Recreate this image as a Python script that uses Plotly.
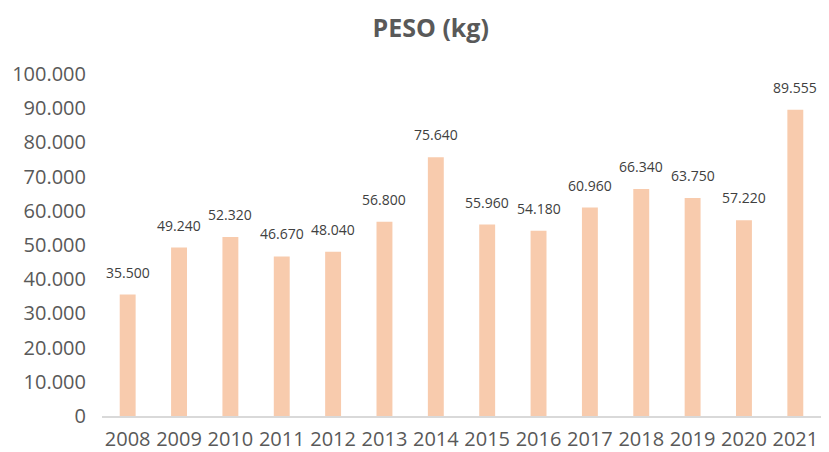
import plotly.graph_objects as go

years = ["2008", "2009", "2010", "2011", "2012", "2013", "2014",
         "2015", "2016", "2017", "2018", "2019", "2020", "2021"]
peso = [35500, 49240, 52320, 46670, 48040, 56800, 75640,
        55960, 54180, 60960, 66340, 63750, 57220, 89555]

FONT = "Open Sans"

fig = go.Figure()
fig.add_trace(go.Bar(
    x=years, y=peso,
    marker=dict(color="#F8CBAD", line=dict(width=0)),
    width=0.31,
    hoverinfo="x+y",
))

# value labels above bars (category axis -> use the category index)
for i, v in enumerate(peso):
    fig.add_annotation(
        x=i, y=v, text=f"{v:,}".replace(",", "."),
        showarrow=False, yanchor="bottom", yshift=11,
        font=dict(family=FONT, size=14, color="#404040"),
    )

# page body adds an 8px margin, so the figure is a bit smaller than the window
fig.update_layout(
    width=813, height=444,
    margin=dict(l=94, r=0, t=66, b=34),
    paper_bgcolor="white", plot_bgcolor="white",
    separators=",.",
    showlegend=False,
    title=dict(text="<b>PESO (kg)</b>", x=0.52, xanchor="center", y=0.955, yanchor="middle",
               font=dict(family=FONT, size=25, color="#595959")),
    xaxis=dict(
        type="category", range=[-0.5, len(years) - 0.5],
        showline=True, linecolor="#D9D9D9", linewidth=2,
        ticks="", showgrid=False, ticklabelstandoff=4,
        tickfont=dict(family=FONT, size=20, color="#595959"),
    ),
    yaxis=dict(
        range=[0, 100000], dtick=10000, tickformat=",d",
        showgrid=False, zeroline=False, showline=False,
        ticklabelstandoff=15,
        tickfont=dict(family=FONT, size=20, color="#595959"),
    ),
)

fig.write_html("out.html")
